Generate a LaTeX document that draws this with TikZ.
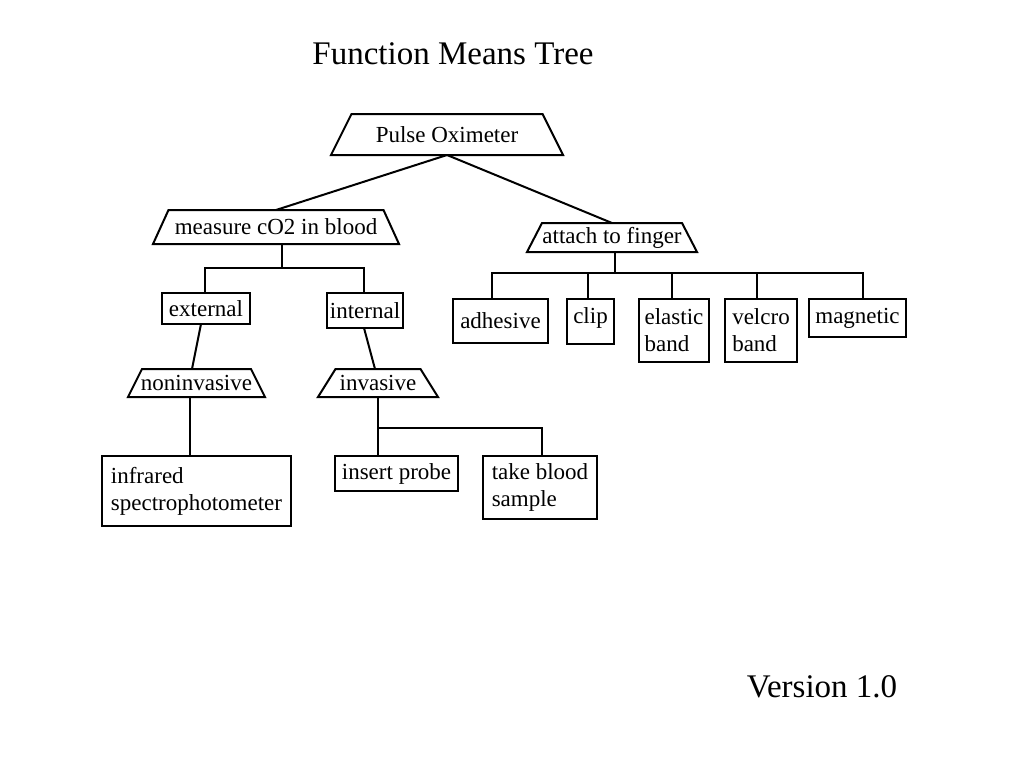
\documentclass[tikz,border=0pt]{standalone}
\usepackage{fontspec}
\setmainfont{Liberation Serif}
\newcommand\drawtrap[2]{\draw[conn] ([xshift=#2]#1.north west) -- ([xshift=-#2]#1.north east) -- (#1.south east) -- (#1.south west) -- cycle;}
\begin{document}
\begin{tikzpicture}[x=1pt,y=-1pt,
  lbl/.style={font=\fontsize{23}{27}\selectfont, inner sep=0pt, outer sep=0pt, align=left},
  trapbox/.style={lbl, draw=none},
  box/.style={lbl, draw, line width=2pt},
  conn/.style={line width=2pt, line join=miter}]
\fill[white] (0,0) rectangle (1024,768);
\useasboundingbox (0,0) rectangle (1024,768);

\node[anchor=base, font=\fontsize{33}{40}\selectfont, inner sep=0pt] (title) at (453,64) {Function Means Tree};
\node[anchor=base, font=\fontsize{33}{40}\selectfont, inner sep=0pt] (version) at (822,697) {Version 1.0};

% trapezoid nodes
\node[trapbox, minimum width=232, minimum height=41] (pulse) at (447,134.5) {Pulse Oximeter};
\node[trapbox, minimum width=246, minimum height=34] (measure) at (276,227) {measure cO2 in blood};
\node[trapbox, minimum width=170, minimum height=29] (attach) at (612,237.5) {attach to finger};
\node[trapbox, minimum width=137, minimum height=28] (noninv) at (196.5,383) {noninvasive};
\node[trapbox, minimum width=120, minimum height=28] (inv) at (378,383) {invasive};
\drawtrap{pulse}{20.5}
\drawtrap{measure}{15.5}
\drawtrap{attach}{15}
\drawtrap{noninv}{14}
\drawtrap{inv}{17.5}

% rectangular nodes
\node[box, minimum width=88, minimum height=31] (external) at (206,308.5) {external};
\node[box, minimum width=76, minimum height=35] (internal) at (365,310.5) {internal};
\node[box, minimum width=95, minimum height=44] (adhesive) at (500.5,321) {adhesive};
\node[box, minimum width=47, minimum height=45, text depth=12pt] (clip) at (590.5,321.5) {clip};
\node[box, minimum width=70, minimum height=63] (elastic) at (674,330.5) {elastic\\band};
\node[box, minimum width=72, minimum height=63] (velcro) at (761,330.5) {velcro\\band};
\node[box, minimum width=97, minimum height=38] (magnetic) at (857.5,318) {magnetic};
\node[box, minimum width=189, minimum height=70] (infrared) at (196.5,491) {infrared\\spectrophotometer};
\node[box, minimum width=123, minimum height=35] (insert) at (396.5,473.5) {insert probe};
\node[box, minimum width=114, minimum height=63] (take) at (540,487.5) {take blood\\sample};

% junction coordinates
\coordinate (mj) at (282,268);
\coordinate (aj) at (615,273);
\coordinate (ij) at (378,428);

% connectors
\draw[conn] (pulse.south) -- (measure.north);
\draw[conn] (pulse.south) -- (attach.north);

\draw[conn] (measure.south -| mj) -- (mj);
\draw[conn] ([xshift=-1]external.north) -- ([xshift=-1]external.north |- mj) -- ([xshift=-1]internal.north |- mj) -- ([xshift=-1]internal.north);

\draw[conn] (attach.south -| aj) -- (aj);
\draw[conn] ([xshift=-8.5]adhesive.north) -- ([xshift=-8.5]adhesive.north |- aj) -- ([xshift=5.5]magnetic.north |- aj) -- ([xshift=5.5]magnetic.north);
\draw[conn] ([xshift=-2.5]clip.north) -- ([xshift=-2.5]clip.north |- aj);
\draw[conn] ([xshift=-2]elastic.north) -- ([xshift=-2]elastic.north |- aj);
\draw[conn] ([xshift=-4]velcro.north) -- ([xshift=-4]velcro.north |- aj);

\draw[conn] ([xshift=-5]external.south) -- ([xshift=-4.5]noninv.north);
\draw[conn] ([xshift=-1]internal.south) -- ([xshift=-3]inv.north);
\draw[conn] ([xshift=-6.5]noninv.south) -- ([xshift=-6.5]infrared.north);

\draw[conn] (inv.south) -- (ij) -- (insert.north -| ij);
\draw[conn] (ij) -- ([xshift=2]take.north |- ij) -- ([xshift=2]take.north);
\end{tikzpicture}
\end{document}
